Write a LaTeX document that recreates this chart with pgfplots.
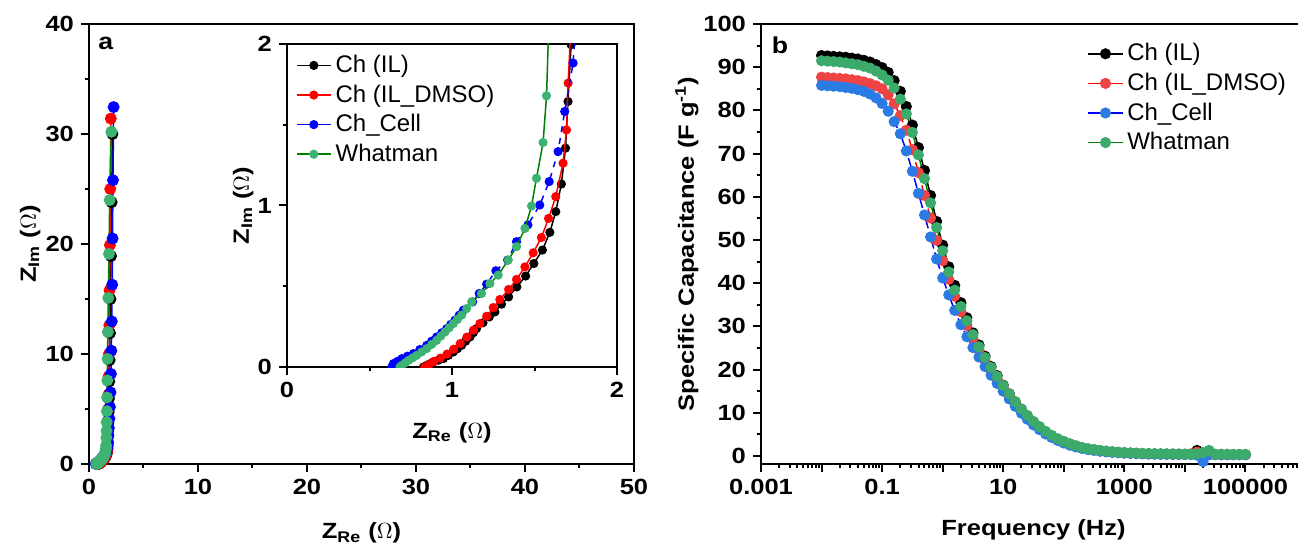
\documentclass[border=0pt]{standalone}
\usepackage{fontspec}
\setmainfont{Liberation Sans}[BoldFeatures={FakeStretch=1.16}]
\usepackage{pgfplots}
\usepackage{pgfplotstable}
\pgfplotsset{compat=1.18}

\definecolor{mgreen}{RGB}{60,179,113}
\definecolor{lgreen}{RGB}{0,128,0}
\definecolor{bred}{RGB}{239,68,68}
\definecolor{bblue}{RGB}{43,123,228}
\definecolor{bgreen}{RGB}{59,170,106}

% Nyquist data, panel a (Z_Re, Z_Im)
\pgfplotstableread{
x y
0.827 0.000
0.847 0.010
0.867 0.020
0.887 0.031
0.917 0.042
0.948 0.052
0.978 0.072
1.008 0.093
1.033 0.113
1.058 0.134
1.083 0.160
1.109 0.186
1.129 0.212
1.149 0.238
1.188 0.274
1.226 0.310
1.260 0.341
1.300 0.389
1.343 0.434
1.393 0.496
1.446 0.563
1.496 0.641
1.548 0.724
1.593 0.834
1.629 0.962
1.663 1.133
1.688 1.355
1.703 1.644
1.722 1.996
1.74 2.45
1.76 3.00
1.78 3.75
1.80 4.73
1.83 5.95
1.86 7.50
1.89 9.45
1.93 11.9
1.97 15.0
2.02 18.9
2.08 23.8
2.15 30.0
}\chil
\pgfplotstableread{
x y
0.835 0.000
0.860 0.015
0.890 0.035
0.930 0.055
0.970 0.080
1.010 0.110
1.050 0.145
1.090 0.185
1.130 0.228
1.169 0.269
1.210 0.314
1.250 0.368
1.290 0.418
1.343 0.480
1.391 0.542
1.442 0.620
1.492 0.707
1.542 0.802
1.585 0.920
1.629 1.055
1.673 1.262
1.694 1.468
1.704 1.758
1.720 2.10
1.73 2.51
1.74 3.16
1.75 3.98
1.76 5.00
1.78 6.30
1.80 7.95
1.83 10.0
1.86 12.6
1.89 15.8
1.92 19.9
1.95 25.0
2.00 31.4
}\childmso
\pgfplotstableread{
x y
0.635 0.000
0.645 0.021
0.670 0.035
0.696 0.052
0.730 0.067
0.766 0.083
0.805 0.108
0.847 0.134
0.877 0.160
0.907 0.186
0.938 0.212
0.968 0.238
0.993 0.264
1.018 0.290
1.044 0.321
1.069 0.352
1.125 0.403
1.165 0.455
1.210 0.513
1.266 0.596
1.337 0.662
1.391 0.776
1.460 0.880
1.532 1.003
1.589 1.148
1.643 1.334
1.683 1.582
1.734 1.882
1.78 2.60
1.82 3.27
1.87 4.12
1.92 5.18
1.97 6.51
2.01 8.19
2.05 10.3
2.09 12.96
2.13 16.3
2.16 20.5
2.20 25.8
2.26 32.45
}\chcell
\pgfplotstableread{
x y
0.685 0.000
0.696 0.010
0.716 0.025
0.736 0.041
0.761 0.056
0.786 0.072
0.816 0.093
0.847 0.114
0.877 0.140
0.907 0.165
0.932 0.191
0.958 0.217
0.983 0.243
1.008 0.269
1.033 0.295
1.058 0.321
1.089 0.362
1.119 0.403
1.179 0.455
1.230 0.517
1.280 0.569
1.341 0.662
1.391 0.745
1.442 0.858
1.482 0.997
1.512 1.169
1.552 1.390
1.573 1.679
1.595 2.40
1.61 3.00
1.62 3.80
1.64 4.80
1.66 6.05
1.68 7.60
1.70 9.55
1.73 12.0
1.77 15.1
1.83 19.1
1.90 24.0
2.05 30.2
}\whatman

% Specific capacitance vs frequency, panel b
\pgfplotstableread{
f       chil   childmso chcell what
1e-2    92.7   87.7   85.8   91.5
1.26e-2 92.6   87.6   85.7   91.4
1.58e-2 92.5   87.5   85.6   91.3
2.00e-2 92.4   87.4   85.5   91.2
2.51e-2 92.3   87.3   85.3   91.0
3.16e-2 92.1   87.1   85.1   90.8
3.98e-2 91.9   86.9   84.8   90.6
5.01e-2 91.6   86.6   84.4   90.2
6.31e-2 91.2   86.2   83.8   89.8
7.94e-2 90.6   85.7   82.9   89.1
1e-1    89.9   85.0   81.6   88.2
1.26e-1 88.8   83.6   79.8   87.0
1.58e-1 86.9   81.5   77.4   85.2
2.00e-1 84.4   78.8   74.6   82.6
2.51e-1 80.9   75.4   70.6   79.2
3.16e-1 76.6   70.9   65.9   74.9
3.98e-1 71.4   65.6   60.8   69.7
5.01e-1 66.1   60.3   55.8   64.2
6.31e-1 60.3   55.1   50.7   58.6
7.94e-1 54.3   49.9   45.6   52.9
1       48.8   45.2   41.2   47.5
1.26    43.8   40.9   37.3   42.6
1.58    39.5   37.0   33.7   38.4
2.00    35.5   33.4   30.4   34.6
2.51    32.0   30.2   27.6   31.3
3.16    28.5   27.2   25.1   28.1
3.98    25.7   24.5   22.9   25.3
5.01    23.1   22.1   20.7   22.8
6.31    20.7   19.8   18.7   20.5
7.94    18.6   17.8   16.8   18.4
10      16.4   15.8   15.0   16.3
12.6    14.4   13.9   13.2   14.4
15.8    12.5   12.1   11.5   12.6
20.0    10.8   10.5    9.9   10.9
25.1     9.2    9.0    8.5    9.4
31.6     7.8    7.7    7.2    8.0
39.8     6.6    6.5    6.1    6.8
50.1     5.5    5.5    5.1    5.7
63.1     4.6    4.6    4.3    4.8
79.4     3.8    3.8    3.6    4.0
100      3.2    3.2    3.0    3.4
126      2.7    2.7    2.5    2.85
158      2.25   2.25   2.1    2.4
200      1.9    1.9    1.75   2.0
251      1.6    1.6    1.5    1.7
316      1.4    1.4    1.3    1.5
398      1.2    1.2    1.1    1.3
501      1.05   1.05   0.97   1.15
631      0.92   0.92   0.85   1.0
794      0.82   0.82   0.76   0.9
1000     0.73   0.73   0.68   0.8
1259     0.66   0.66   0.61   0.73
1585     0.60   0.60   0.55   0.67
1995     0.55   0.55   0.51   0.62
2512     0.51   0.51   0.47   0.58
3162     0.48   0.48   0.44   0.55
3981     0.45   0.45   0.42   0.52
5012     0.43   0.43   0.40   0.50
6310     0.41   0.41   0.38   0.48
7943     0.39   0.39   0.37   0.46
10000    0.38   0.38   0.36   0.45
12589    0.38   0.50   0.34   0.44
15849    1.30   0.90   0.20   0.50
19953    0.40  -0.60  -1.30   0.80
25119    0.36   0.30   0.32   1.30
31623    0.35   0.35   0.32   0.42
39811    0.34   0.34   0.31   0.40
50119    0.33   0.33   0.30   0.39
63096    0.33   0.33   0.30   0.38
79433    0.32   0.32   0.29   0.37
100000   0.32   0.32   0.29   0.37
}\capdata

\pgfplotsset{
  orig/.style={
    scale only axis,
    axis line style={line width=1pt},
    every tick/.style={line width=1pt,black},
    major tick length=4pt, minor tick length=2.2pt,
    tick align=outside, tick pos=left,
    tick label style={font=\fontsize{11}{12}\selectfont\bfseries},
    /pgf/number format/assume math mode=true,
    label style={font=\fontsize{11}{12}\selectfont\bfseries},
    legend style={draw=none,fill=none,font=\fontsize{12}{14}\selectfont,
      inner sep=1pt,row sep=0.6pt,/tikz/every even column/.append style={column sep=2pt}},
    legend cell align=left,
    legend image code/.code={%
      \draw[mark repeat=2,mark phase=2,##1,solid] plot coordinates {(0cm,0cm) (0.3cm,0cm) (0.6cm,0cm)};},
  },
}

\begin{document}
\begin{tikzpicture}[x=1pt,y=1pt]
\useasboundingbox (0,0) rectangle (649,273.5);

% panel a, main axis
\begin{axis}[orig,
  at={(44.5pt,41.5pt)}, anchor=south west,
  width=272.5pt, height=220pt,
  xmin=0, xmax=50, ymin=0, ymax=40,
  xtick={0,10,...,50}, minor xtick={5,15,...,45},
  ytick={0,10,...,40}, minor ytick={5,15,...,35},
  xlabel={Z\textsubscript{Re} ($\Omega$)},
  ylabel={Z\textsubscript{Im} ($\Omega$)},
  xlabel style={at={(axis description cs:0.5,-0.157)},anchor=center},
  ylabel style={at={(axis description cs:-0.108,0.5)},anchor=center},
  every axis plot/.append style={line width=0.75pt,mark=*,mark size=2.6pt},
]
\addplot[black,mark options={fill=black}] table[x=x,y=y]{\chil};
\addplot[red,mark options={fill=red}] table[x=x,y=y]{\childmso};
\addplot[blue,mark options={fill=blue}] table[x=x,y=y]{\chcell};
\addplot[lgreen,mark options={draw=mgreen,fill=mgreen}] table[x=x,y=y]{\whatman};
\node[font=\fontsize{11.5}{12}\selectfont\bfseries] at (rel axis cs:0.031,0.957) {a};
\end{axis}

% panel a, inset
\begin{axis}[orig,
  at={(143.5pt,90pt)}, anchor=south west,
  width=165pt, height=161.5pt,
  xmin=0, xmax=2, ymin=0, ymax=2,
  xtick={0,1,2}, minor xtick={0.5,1.5},
  ytick={0,1,2}, minor ytick={0.5,1.5},
  clip marker paths=true,
  axis background/.style={fill=white},
  xlabel={Z\textsubscript{Re} ($\Omega$)},
  ylabel={Z\textsubscript{Im} ($\Omega$)},
  xlabel style={at={(axis description cs:0.5,-0.204)},anchor=center},
  ylabel style={at={(axis description cs:-0.133,0.5)},anchor=center},
  legend style={at={(axis description cs:0.02,0.985)},anchor=north west},
  every axis plot/.append style={line width=0.75pt,mark=*,mark size=1.9pt},
]
\addplot[black,mark options={fill=black}] table[x=x,y=y]{\chil};
\addlegendentry{Ch (IL)}
\addplot[red,mark options={fill=red}] table[x=x,y=y]{\childmso};
\addlegendentry{Ch (IL\_DMSO)}
\addplot[blue,dashed,mark options={solid,fill=blue}] table[x=x,y=y]{\chcell};
\addlegendentry{Ch\_Cell}
\addplot[lgreen,mark options={draw=mgreen,fill=mgreen}] table[x=x,y=y]{\whatman};
\addlegendentry{Whatman}
\end{axis}

% panel b
\begin{axis}[orig,
  at={(380.5pt,41.5pt)}, anchor=south west,
  width=272.5pt, height=220pt,
  xmode=log, xmin=1e-3, xmax=1e6, ymin=-1.85, ymax=100,
  xtick={1e-3,1e-2,1e-1,1,10,100,1e3,1e4,1e5,1e6},
  xticklabels={0.001,,0.1,,10,,1000,,100000,},
  minor xtick={2e-3,3e-3,4e-3,5e-3,6e-3,7e-3,8e-3,9e-3,
    2e-2,3e-2,4e-2,5e-2,6e-2,7e-2,8e-2,9e-2,
    0.2,0.3,0.4,0.5,0.6,0.7,0.8,0.9,
    2,3,4,5,6,7,8,9,
    20,30,40,50,60,70,80,90,
    200,300,400,500,600,700,800,900,
    2e3,3e3,4e3,5e3,6e3,7e3,8e3,9e3,
    2e4,3e4,4e4,5e4,6e4,7e4,8e4,9e4,
    2e5,3e5,4e5,5e5,6e5,7e5,8e5,9e5},
  ytick={0,10,...,100}, minor ytick={5,15,...,95},
  xlabel={Frequency (Hz)},
  ylabel={Specific Capacitance (F g\textsuperscript{-1})},
  xlabel style={at={(axis description cs:0.5,-0.15)},anchor=center},
  ylabel style={at={(axis description cs:-0.136,0.5)},anchor=center},
  legend style={at={(axis description cs:0.595,0.97)},anchor=north west},
  every axis plot/.append style={line width=0.75pt,mark=*,mark size=2.4pt},
]
\addplot[black,mark options={fill=black}] table[x=f,y=chil]{\capdata};
\addlegendentry{Ch (IL)}
\addplot[red,dashed,mark options={solid,draw=bred,fill=bred}] table[x=f,y=childmso]{\capdata};
\addlegendentry{Ch (IL\_DMSO)}
\addplot[blue,dash pattern=on 5pt off 2pt on 1.5pt off 2pt,mark options={solid,draw=bblue,fill=bblue}] table[x=f,y=chcell]{\capdata};
\addlegendentry{Ch\_Cell}
\addplot[lgreen,mark options={draw=bgreen,fill=bgreen}] table[x=f,y=what]{\capdata};
\addlegendentry{Whatman}
\node[font=\fontsize{11.5}{12}\selectfont\bfseries] at (rel axis cs:0.035,0.952) {b};
\end{axis}
\end{tikzpicture}
\end{document}
